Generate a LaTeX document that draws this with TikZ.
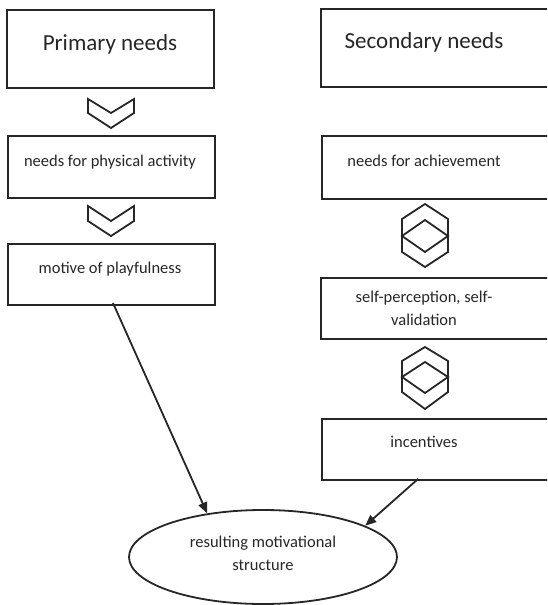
\documentclass[tikz,border=0pt]{standalone}
\usepackage{fontspec}
\setmainfont{Carlito}
\usetikzlibrary{arrows.meta,shapes.geometric}
\begin{document}
\begin{tikzpicture}[x=1pt,y=-1pt,
  line/.style={draw=black!85,line width=1.8pt},
  box/.style={line,rectangle,inner sep=0pt,anchor=north west},
  big/.style={font={\fontsize{23}{28}\selectfont},text=black!85,inner sep=0pt},
  small/.style={font={\fontsize{16.5}{23}\selectfont},text=black!85,inner sep=0pt,align=center},
  chev/.style={line,line join=miter},
  arr/.style={line,-{Triangle[length=11pt,width=9pt]}}
]
\useasboundingbox (0,0) rectangle (547,605);
\clip (0,0) rectangle (547,605);
% boxes left
\node[box,minimum width=207pt,minimum height=78pt] (lb1) at (6,9) {};
\node[box,minimum width=207pt,minimum height=62pt] (lb2) at (7,135) {};
\node[box,minimum width=207pt,minimum height=61pt] (lb3) at (7,243) {};
% boxes right (cut by the right edge)
\node[box,minimum width=240pt,minimum height=78pt] (rb1) at (320,8) {};
\node[box,minimum width=240pt,minimum height=63pt] (rb2) at (321,135) {};
\node[box,minimum width=240pt,minimum height=61pt] (rb3) at (320,277) {};
\node[box,minimum width=240pt,minimum height=61pt] (rb4) at (321,418) {};
% texts
\node[big,anchor=base] (t1) at (110,50) {Primary needs};
\node[big,anchor=base] (t2) at (424,48) {Secondary needs};
\node[small,anchor=base] (t3) at (110,166) {needs for physical activity};
\node[small,anchor=base] (t4) at (424,166) {needs for achievement};
\node[small,anchor=base] (t5) at (110,273) {motive of playfulness};
\node[small,anchor=center] (t6) at (424,308) {self-perception, self-\\validation};
\node[small,anchor=base] (t7) at (424,447) {incentives};
% ellipse
\node[line,ellipse,minimum width=268pt,minimum height=94pt,inner sep=0pt] (ell) at (263,557) {};
\node[small,anchor=center] (t8) at (263,553) {resulting motivational\\structure};
% chevrons
\draw[chev] (88,99) -- (111,113) -- (134,99) -- (134,113) -- (111,128) -- (88,113) -- cycle;
\draw[chev] (88,206) -- (111,221) -- (134,206) -- (134,221) -- (111,236) -- (88,221) -- cycle;
% hexagons with diamonds
\draw[chev] (425,204) -- (448,219) -- (448,252) -- (425,267) -- (402,252) -- (402,219) -- cycle;
\draw[chev] (425,220) -- (448,236) -- (425,252) -- (402,236) -- cycle;
\draw[chev] (425,347) -- (448,361) -- (448,392) -- (425,409) -- (402,392) -- (402,361) -- cycle;
\draw[chev] (425,362) -- (448,377) -- (425,393) -- (402,377) -- cycle;
% arrows
\coordinate (s1) at (113,303);
\coordinate (s2) at (418,479);
\draw[arr] (s1) -- (ell.142.5);
\draw[arr] (s2) -- (ell.17);
\end{tikzpicture}
\end{document}
